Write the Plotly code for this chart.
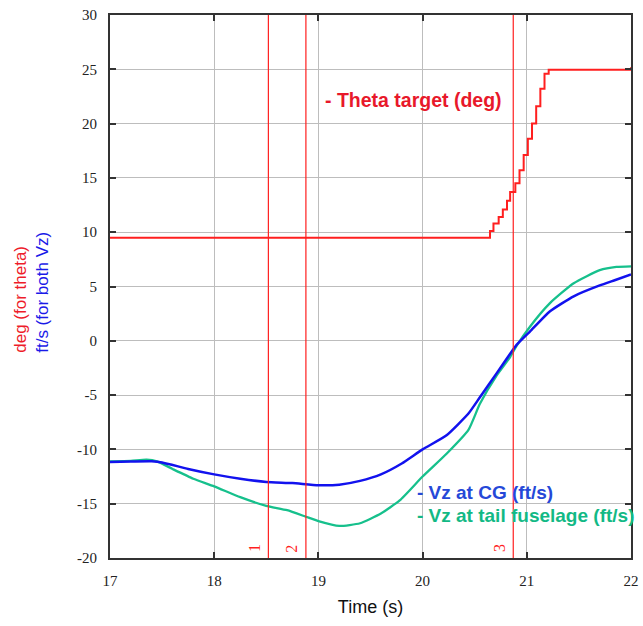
import plotly.graph_objects as go

# ---- data ----
theta_t = [17.0, 20.647, 20.68, 20.73, 20.77, 20.81, 20.84, 20.89, 20.93, 20.97,
           21.01, 21.05, 21.09, 21.13, 21.17, 21.21, 22.0]
theta_v = [9.5, 10.1, 10.8, 11.4, 12.1, 12.9, 13.7, 14.5, 15.7, 17.1,
           18.6, 20.0, 21.6, 23.2, 24.6, 24.95, 25.2]

cg_t = [17.0, 17.2, 17.4, 17.5, 17.75, 18.0, 18.25, 18.5, 18.75, 19.0, 19.2, 19.4,
        19.6, 19.8, 20.0, 20.23, 20.44, 20.55, 20.71, 20.84, 20.9, 21.03, 21.22,
        21.45, 21.7, 21.85, 22.0]
cg_v = [-11.15, -11.12, -11.1, -11.2, -11.8, -12.3, -12.7, -13.0, -13.1, -13.3, -13.25,
        -12.9, -12.3, -11.3, -10.0, -8.7, -6.7, -5.2, -3.0, -1.2, -0.4, 0.85, 2.7,
        4.1, 5.1, 5.6, 6.1]

tail_t = [17.0, 17.2, 17.35, 17.45, 17.6, 17.8, 18.0, 18.25, 18.5, 18.7, 18.88, 19.0,
          19.2, 19.4, 19.6, 19.78, 20.0, 20.23, 20.44, 20.55, 20.71, 20.84, 20.9,
          21.03, 21.22, 21.45, 21.7, 21.86, 22.0]
tail_v = [-11.1, -11.05, -10.95, -11.1, -11.8, -12.7, -13.4, -14.4, -15.2, -15.6, -16.2,
          -16.6, -17.05, -16.8, -15.9, -14.7, -12.5, -10.4, -8.2, -5.8, -3.2, -1.5,
          -0.5, 1.3, 3.45, 5.3, 6.5, 6.8, 6.85]

event_t = [18.52, 18.88, 20.87]
event_labels = ["1", "2", "3"]

x_ticks = [17, 18, 19, 20, 21, 22]
x_ticktext = ["17", "18", "19", "20", "21", "22"]
y_ticks = [-20, -15, -10, -5, 0, 5, 10, 15, 20, 25, 30]
y_ticktext = ["-20", "-15", "-10", "-5", "0", "5", "10", "15", "20", "25", "30"]

RED = "#ff1f1f"
BLUE = "#1212ee"
GREEN = "#16c08c"

fig = go.Figure()
fig.add_trace(go.Scatter(x=theta_t, y=theta_v, mode="lines", line=dict(color=RED, width=2, shape="hv")))
fig.add_trace(go.Scatter(x=tail_t, y=tail_v, mode="lines", line=dict(color=GREEN, width=2.3, shape="spline", smoothing=0.5)))
fig.add_trace(go.Scatter(x=cg_t, y=cg_v, mode="lines", line=dict(color=BLUE, width=2.5, shape="spline", smoothing=0.5)))

for t, lab in zip(event_t, event_labels):
    fig.add_shape(type="line", x0=t, x1=t, y0=0, y1=1, xref="x", yref="paper",
                  line=dict(color=RED, width=1.2), layer="above")
    fig.add_annotation(x=t, y=-19.1, text=lab, textangle=-90, showarrow=False,
                       xanchor="right", xshift=-4, yanchor="middle",
                       font=dict(family="Liberation Serif", size=16, color=RED))

fig.add_annotation(x=19.04, y=22.2, text="<b>- Theta target (deg)</b>", showarrow=False,
                   xanchor="left", yanchor="middle",
                   font=dict(family="Liberation Sans", size=19.5, color="#e8182a"))
fig.add_annotation(x=19.93, y=-14.0, text="<b>- Vz at CG (ft/s)</b>", showarrow=False,
                   xanchor="left", yanchor="middle",
                   font=dict(family="Liberation Sans", size=19, color="#2548d8"))
fig.add_annotation(x=19.93, y=-16.1, text="<b>- Vz at tail fuselage (ft/s)</b>", showarrow=False,
                   xanchor="left", yanchor="middle",
                   font=dict(family="Liberation Sans", size=19, color="#12b985"))

fig.add_annotation(xref="paper", yref="paper", x=-0.15, y=0.49, xanchor="center", yanchor="middle",
                   textangle=-90, showarrow=False, align="left",
                   text="<span style='color:#ee1c2a'>deg (for theta)</span><br><span style='color:#1a1ae8'>ft/s (for both Vz)</span>",
                   font=dict(family="Liberation Sans", size=17))

axis_common = dict(showgrid=True, gridcolor="#bdbdbd", gridwidth=1, zeroline=False,
                   showline=True, linecolor="#333333", linewidth=2, mirror="ticks",
                   ticks="inside", ticklen=6, tickcolor="#333333", tickwidth=2,
                   automargin=False,
                   tickfont=dict(family="Liberation Serif", size=15, color="#222222"))

fig.update_xaxes(range=[17, 22], tickvals=x_ticks, ticktext=x_ticktext,
                 title=dict(text="Time (s)", font=dict(family="Liberation Sans", size=18, color="#111111"), standoff=12),
                 ticklabelstandoff=8, **axis_common)
fig.update_yaxes(range=[-20, 30], tickvals=y_ticks, ticktext=y_ticktext,
                 ticklabelstandoff=8, **axis_common)

fig.update_layout(width=643, height=626, margin=dict(l=110, r=12, t=15, b=68),
                  plot_bgcolor="white", paper_bgcolor="white", showlegend=False)

fig.write_html("out.html")
